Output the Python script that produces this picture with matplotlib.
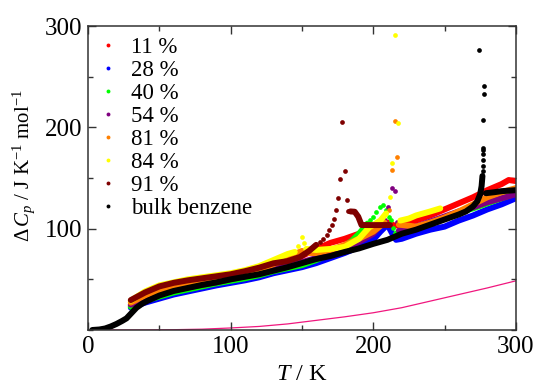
"""Excess heat capacity of benzene confined in pores vs bulk benzene."""

import matplotlib
matplotlib.use("Agg")

import matplotlib.pyplot as plt
from matplotlib.lines import Line2D
from matplotlib.ticker import MultipleLocator

plt.rcParams["font.family"] = ["Liberation Serif", "DejaVu Serif"]
plt.rcParams["mathtext.fontset"] = "custom"
plt.rcParams["mathtext.rm"] = "Liberation Serif"
plt.rcParams["mathtext.it"] = "Liberation Serif:italic"

# ---- data (T in K, dCp in J K-1 mol-1) ----
# each series: continuous band parts ("band") and isolated points near transitions ("dots")
T_11 = [30, 40, 50, 60, 70, 80, 90, 100, 110, 120, 130, 140, 150, 160, 170, 180, 190,
        200, 205, 210, 215, 220, 230, 240, 250, 260, 270, 280, 290, 295, 300]
cp_11 = [24, 29, 33, 37, 40, 42.5, 45, 48, 51, 55, 60, 67, 73, 80, 86, 90, 95,
         100, 104, 106, 103, 104, 108, 113, 119, 125, 131, 138, 144, 148, 147]

T_28 = [30, 40, 50, 60, 70, 80, 90, 100, 110, 120, 130, 140, 150, 160, 170, 180, 190,
        200, 205, 210, 213, 216, 220, 230, 240, 250, 260, 270, 280, 290, 300]
cp_28 = [22, 27, 31, 35, 38, 41, 44, 46.5, 49, 52, 56, 59, 62, 66, 71, 76, 82,
         89, 97, 104, 96, 89, 90, 95, 99, 102, 108, 113, 119, 124, 130]

T_40_a = [30, 40, 50, 60, 70, 80, 90, 100, 110, 120, 130, 140, 150, 160, 170, 180, 185, 190, 196]
cp_40_a = [23, 29, 33, 37, 40, 43, 46, 48.5, 51, 54, 58, 61, 64, 69, 75, 83, 88, 95, 105]
T_40_dots = [198, 200, 202, 205, 207, 209, 211, 212.8, 214, 215.6]
cp_40_dots = [109, 112, 116.7, 121, 123, 118, 112, 108.6, 101, 95.4]
T_40_b = [217, 220, 230, 240, 250, 260, 270, 280, 290, 300]
cp_40_b = [96, 97, 101, 106, 111, 116, 120, 125, 130, 135]

T_54_a = [30, 40, 50, 60, 70, 80, 90, 100, 110, 120, 130, 140, 150, 160, 170, 180, 190, 200, 208]
cp_54_a = [25, 31, 35, 39, 42, 44.5, 47, 50, 53, 56, 60, 63, 67, 71, 75, 80, 87, 95, 108]
T_54_dots = [210.5, 213.5, 215.2, 216.6]
cp_54_dots = [121.7, 140, 137, 107]
T_54_b = [218, 230, 240, 250, 260, 270, 280, 290, 300]
cp_54_b = [98, 102, 107, 112, 117, 121, 126, 130, 134]

T_81_a = [30, 40, 50, 60, 70, 80, 90, 100, 110, 120, 130, 140, 145, 150, 155, 160, 170,
          180, 190, 200, 208]
cp_81_a = [27, 34, 39.5, 43, 46, 48, 50.5, 53, 56, 59.5, 65, 71, 75, 78, 76, 76, 79,
           84, 90, 97, 106]
T_81_dots = [211, 213.3, 215, 216.8]
cp_81_dots = [118, 158, 206.6, 170.4]
T_81_b = [218, 230, 240, 250, 260, 270, 280, 290, 300]
cp_81_b = [104, 102, 106, 111, 117, 124, 131, 136, 140]

T_84_a = [30, 40, 50, 60, 70, 80, 90, 100, 110, 120, 130, 140, 145]
cp_84_a = [29, 38, 44, 47, 50, 52, 54, 56, 59, 63, 69, 75, 77]
T_84_dots1 = [147.4, 149.8, 151.4]
cp_84_dots1 = [83, 91.5, 85.5]
T_84_b = [153, 160, 170, 180, 190, 197, 205, 209]
cp_84_b = [80, 79, 80, 82, 90, 101, 108, 115]
T_84_dots2 = [211.7, 213.5, 215.4, 217.5]
cp_84_dots2 = [131, 164.5, 291, 204]
T_84_c = [219, 225, 230, 240, 247]
cp_84_c = [108, 110, 113, 117, 120]

T_91_a = [30, 40, 50, 60, 70, 80, 90, 100, 110, 120, 130, 140, 148.6, 155, 160]
cp_91_a = [29.5, 37, 43, 46.5, 49, 51, 53, 55, 58, 61.5, 65.8, 68, 72, 78, 84]
T_91_dots = [162.6, 165, 167.3, 169, 170.8, 172.4, 173.8, 175.5, 176.9, 178.3, 179.9,
             181.3, 182.5]
cp_91_dots = [87, 90, 93.7, 98.7, 103.6, 110, 118.4, 130, 148.7, 205, 157.2, 128.3, 117.7]
T_91_b = [184, 187, 189.5, 191.8, 200, 211.7]
cp_91_b = [117, 116.7, 111.8, 103.6, 103.5, 103.6]

T_bulk_a = [3, 8, 12, 16, 20, 24, 27, 30, 34, 38, 42, 50, 60, 70, 80, 90, 100, 110, 120,
            130, 140, 150, 160, 170, 180, 190, 200, 210, 220, 230, 240, 250, 260, 265,
            270, 273, 275, 276, 276.6]
cp_bulk_a = [0, 0.5, 1.5, 3.5, 6, 9, 11.5, 16, 22, 26, 29, 34, 38.5, 41.5, 44.5, 47, 50,
             52.5, 55, 58.5, 62, 66, 70, 73, 77, 80.5, 85, 89, 95, 99, 104, 109, 114, 117,
             122, 127, 134, 142, 152]
T_bulk_dots = [277, 277.1, 277.2, 277.3, 277.3, 277.3, 277.1, 277.6, 277.6, 274.3]
cp_bulk_dots = [157, 162, 168, 174, 178, 180, 207, 233, 241, 276]
T_bulk_b = [279, 285, 290, 295, 300]
cp_bulk_b = [135, 136, 137, 137.5, 138]

# lattice contribution (thin pink curve)
T_lat = [10, 40, 60, 80, 100, 120, 140, 160, 180, 200, 220, 240, 260, 280, 300]
cp_lat = [0, 0, 0.3, 0.8, 2, 3.5, 6, 9.5, 13, 17, 22, 28.5, 35, 41.5, 48.5]

labels = ["11 %", "28 %", "40 %", "54 %", "81 %", "84 %", "91 %", "bulk benzene"]
colors = ["#ff0000", "#0000ff", "#00ff00", "#800080", "#ff8000", "#ffff00", "#7f0000", "#000000"]

series = [
    ([(T_11, cp_11)], []),
    ([(T_28, cp_28)], []),
    ([(T_40_a, cp_40_a), (T_40_b, cp_40_b)], [(T_40_dots, cp_40_dots)]),
    ([(T_54_a, cp_54_a), (T_54_b, cp_54_b)], [(T_54_dots, cp_54_dots)]),
    ([(T_81_a, cp_81_a), (T_81_b, cp_81_b)], [(T_81_dots, cp_81_dots)]),
    ([(T_84_a, cp_84_a), (T_84_b, cp_84_b), (T_84_c, cp_84_c)],
     [(T_84_dots1, cp_84_dots1), (T_84_dots2, cp_84_dots2)]),
    ([(T_91_a, cp_91_a), (T_91_b, cp_91_b)], [(T_91_dots, cp_91_dots)]),
    ([(T_bulk_a, cp_bulk_a), (T_bulk_b, cp_bulk_b)], [(T_bulk_dots, cp_bulk_dots)]),
]

fig = plt.figure(figsize=(5.39, 3.87), dpi=100)
ax = fig.add_axes([0.1633, 0.1473, 0.7937, 0.7855])

ax.plot(T_lat, cp_lat, color="#f0177e", lw=0.9, zorder=1)

for (bands, dots), c in zip(series, colors):
    for t, cp in bands:
        ax.plot(t, cp, color=c, lw=4.3, solid_capstyle="round", solid_joinstyle="round")
    for t, cp in dots:
        ax.plot(t, cp, ls="none", marker="o", ms=3.4, mew=0, color=c)

handles = [Line2D([], [], ls="none", marker="o", ms=2.8, mew=0, color=c) for c in colors]
ax.legend(handles, labels, loc="upper left", frameon=False, fontsize=16.5,
          labelspacing=0.09, handlelength=0.5, handletextpad=0.72,
          borderaxespad=0.0, bbox_to_anchor=(0.013, 0.995))

ax.set_xlim(0, 300)
ax.set_ylim(0, 300)
ax.xaxis.set_major_locator(MultipleLocator(100))
ax.xaxis.set_minor_locator(MultipleLocator(50))
ax.set_yticks([100, 200, 300])
ax.yaxis.set_minor_locator(MultipleLocator(50))
ax.tick_params(which="both", direction="in", top=True, right=True, labelsize=18,
               width=1.0, color="#333333")
ax.tick_params(which="major", length=6, pad=4)
ax.tick_params(which="minor", length=3.5)
for s in ax.spines.values():
    s.set_linewidth(1.1)
    s.set_color("#333333")

ax.set_xlabel("$T$ / K", fontsize=17.5, labelpad=5)
ax.set_ylabel(r"$\Delta\, C_p$ / J K$^{-1}$ mol$^{-1}$", fontsize=15)
ax.yaxis.set_label_coords(-0.12, 0.54)

fig.savefig("out.png", dpi=100)
